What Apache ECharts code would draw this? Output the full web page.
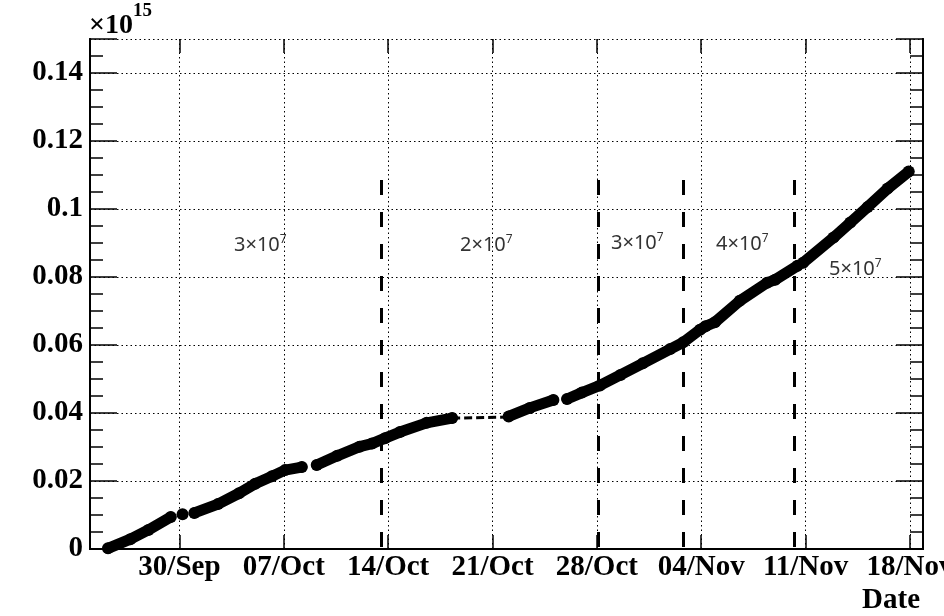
<!DOCTYPE html>
<html>
<head>
<meta charset="utf-8">
<title>Integrated intensity vs date</title>
<script src="https://cdn.jsdelivr.net/npm/echarts@6/dist/echarts.min.js"></script>
<style>
  html, body { margin:0; padding:0; background:#fff; }
  #chart { width:944px; height:616px; }
</style>
</head>
<body>
<div id="chart"></div>
<script>
// the year is not shown on the plot, any year does
const YEAR = 2017;
const DAY = 86400000;

// accumulated points, null = beam off (line breaks)
const pointTimes = [
  '09-25 05:00','09-26 17:00','09-27 22:00','09-29 10:00', null,
  '09-30 05:00', null,
  '10-01 00:00','10-02 14:00','10-04 00:00','10-05 02:00','10-06 05:00','10-07 02:00','10-08 05:00', null,
  '10-09 05:00','10-10 14:00','10-12 02:00','10-12 22:00','10-13 19:00','10-14 19:00','10-16 14:00','10-18 07:00', null,
  '10-22 02:00','10-23 12:00','10-25 02:00', null,
  '10-26 00:00','10-27 00:00','10-28 05:00','10-29 14:00','10-31 02:00','11-01 22:00','11-02 19:00','11-03 22:00','11-04 07:00','11-04 22:00','11-06 14:00','11-08 10:00','11-08 23:00','11-10 11:00', null,
  '11-10 20:00','11-12 21:00','11-14 00:00','11-15 04:00','11-16 12:00','11-17 22:00'
];
const pointValues = [
  0.0002,0.0029,0.0056,0.0094, null,
  0.0102, null,
  0.0106,0.0132,0.0164,0.0192,0.0214,0.0232,0.0241, null,
  0.0247,0.0274,0.0301,0.0310,0.0326,0.0344,0.0371,0.0385, null,
  0.0390,0.0415,0.0438, null,
  0.0441,0.0460,0.0481,0.0512,0.0546,0.0588,0.0608,0.0645,0.0655,0.0667,0.0730,0.0783,0.0792,0.0833, null,
  0.0842,0.0916,0.0960,0.1006,0.1060,0.1110
];

// dotted bridge across the stop around 21/Oct
const bridgeTimes = ['10-18 07:00','10-22 02:00'];
const bridgeValues = [0.0385, 0.0388];

// dashed boundaries between intensity periods
const boundaryTimes = ['10-13 13:00','10-28 02:00','11-02 19:00','11-10 06:00'];
const boundaryTop = 0.1085;

// intensity of each period (x10^7)
const periodFactors = ['3','2','3','4','5'];

// weekly tick dates
const weekTicks = ['09-30','10-07','10-14','10-21','10-28','11-04','11-11','11-18'];
const monthName = ['Jan','Feb','Mar','Apr','May','Jun','Jul','Aug','Sep','Oct','Nov','Dec'];

const yTicks = [0, 0.02, 0.04, 0.06, 0.08, 0.1, 0.12, 0.14];

function toTime(s){
  let p = s.split(/[- :]/).map(Number);
  return Date.UTC(YEAR, p[0]-1, p[1], p[2] || 0, p[3] || 0);
}

const xMin = toTime('09-24 00:00');
const xMax = toTime('11-18 21:00');
const yMax = 0.15;
const tickH = 0.0041;   // ~14px of y range

const weekSet = weekTicks.map(toTime);

let curveData = pointTimes.map(function(t, i){
  return t === null ? [null, null] : [toTime(t), pointValues[i]];
});
let bridgeData = bridgeTimes.map(function(t, i){ return [toTime(t), bridgeValues[i]]; });

let gridLines = [], xTicks = [];
weekSet.forEach(function(t){
  gridLines.push([{coord:[t, 0]}, {coord:[t, yMax]}]);
  xTicks.push([{coord:[t, 0]}, {coord:[t, tickH]}]);
  xTicks.push([{coord:[t, yMax - tickH]}, {coord:[t, yMax]}]);
});
let boundaryLines = boundaryTimes.map(function(t){
  return [{coord:[toTime(t), boundaryTop]}, {coord:[toTime(t), 0]}];
});

const serif = '"Liberation Serif", "Times New Roman", serif';
const sans = '"Noto Sans", "DejaVu Sans", sans-serif';
const dotted = {color:'#000', type:[1.5,3], width:1};

function yAxisCfg(pos, major){
  return {
    type:'value', position:pos, min:0, max:yMax,
    interval: major ? 0.02 : 0.005,
    axisLine:{show:true, lineStyle:{color:'#000', width:2}},
    axisTick:{show:true, inside:true, length: major ? 27 : 13, lineStyle:{color:'#000', width:1.5}},
    splitLine:{show: major && pos === 'left', lineStyle:dotted},
    axisLabel:{
      show: major && pos === 'left',
      margin:7,
      color:'#000',
      fontFamily:serif,
      fontWeight:'bold',
      fontSize:29,
      formatter:function(v){
        let hit = yTicks.some(function(y){ return Math.abs(y - v) < 1e-9; });
        return hit ? String(parseFloat(v.toFixed(2))) : '';
      }
    }
  };
}

function labelText(f, left, top){
  return {
    type:'text', left:left, top:top, silent:true,
    style:{
      text:'{a|' + f + '×10}{s|7}',
      rich:{
        a:{fontFamily:sans, fontSize:20, fill:'#333', lineHeight:22},
        s:{fontFamily:sans, fontSize:12, fill:'#333', lineHeight:22, verticalAlign:'top'}
      }
    }
  };
}

let chart = echarts.init(document.getElementById('chart'));
let option = {
  animation:false,
  backgroundColor:'#fff',
  grid:{left:90, right:21, top:39, bottom:67, containLabel:false, outerBoundsMode:'none'},
  xAxis:[{
    type:'value', min:xMin, max:xMax, interval:DAY,
    axisLine:{show:true, lineStyle:{color:'#000', width:2}},
    axisTick:{show:false},
    splitLine:{show:false},
    axisLabel:{
      margin:4, color:'#000', fontFamily:serif, fontWeight:'bold', fontSize:29,
      showMinLabel:true, showMaxLabel:true,
      formatter:function(v){
        if (weekSet.indexOf(v) < 0) return '';
        let d = new Date(v);
        return String(d.getUTCDate()).padStart(2,'0') + '/' + monthName[d.getUTCMonth()];
      }
    }
  }, {
    type:'value', position:'top', min:xMin, max:xMax,
    axisLine:{show:true, lineStyle:{color:'#000', width:2}},
    axisTick:{show:false}, splitLine:{show:false}, axisLabel:{show:false}
  }],
  yAxis:[
    yAxisCfg('left', false), yAxisCfg('left', true),
    yAxisCfg('right', false), yAxisCfg('right', true)
  ],
  graphic:[
    {type:'text', left:89, top:2, silent:true, style:{
      text:'{a|×10}{b|15}',
      rich:{
        a:{fontFamily:serif, fontWeight:'bold', fontSize:28, fill:'#000', lineHeight:38, verticalAlign:'bottom'},
        b:{fontFamily:serif, fontWeight:'bold', fontSize:19, fill:'#000', lineHeight:38, verticalAlign:'top'}
      }
    }},
    {type:'text', right:24, top:586, silent:true, style:{
      text:'Date', fontFamily:serif, fontWeight:'bold', fontSize:29, fill:'#000'
    }},
    labelText(periodFactors[0], 234, 234),
    labelText(periodFactors[1], 460, 234),
    labelText(periodFactors[2], 611, 232),
    labelText(periodFactors[3], 716, 233),
    labelText(periodFactors[4], 829, 258)
  ],
  series:[
    {
      // weekly grid lines and x ticks
      type:'line', data:[], xAxisIndex:0, yAxisIndex:1, silent:true,
      markLine:{
        silent:true, symbol:['none','none'], label:{show:false},
        lineStyle:dotted,
        emphasis:{disabled:true},
        data:gridLines
      }
    },
    {
      type:'line', data:[], xAxisIndex:0, yAxisIndex:1, silent:true,
      markLine:{
        silent:true, symbol:['none','none'], label:{show:false},
        lineStyle:{color:'#000', type:'solid', width:1.5},
        emphasis:{disabled:true},
        data:xTicks
      }
    },
    {
      // period boundaries
      type:'line', data:[], xAxisIndex:0, yAxisIndex:1, silent:true,
      markLine:{
        silent:true, symbol:['none','none'], label:{show:false},
        lineStyle:{color:'#000', type:[15,17], width:3},
        emphasis:{disabled:true},
        data:boundaryLines
      }
    },
    {
      type:'line', data:bridgeData, xAxisIndex:0, yAxisIndex:1, silent:true,
      showSymbol:false,
      lineStyle:{color:'#000', type:[8,4], width:3}
    },
    {
      name:'integrated', type:'line', data:curveData, xAxisIndex:0, yAxisIndex:1,
      connectNulls:false, silent:true,
      symbol:'circle', symbolSize:12, showSymbol:true,
      itemStyle:{color:'#000'},
      lineStyle:{color:'#000', width:11, cap:'round', join:'round'}
    }
  ]
};
chart.setOption(option);
</script>
</body>
</html>
